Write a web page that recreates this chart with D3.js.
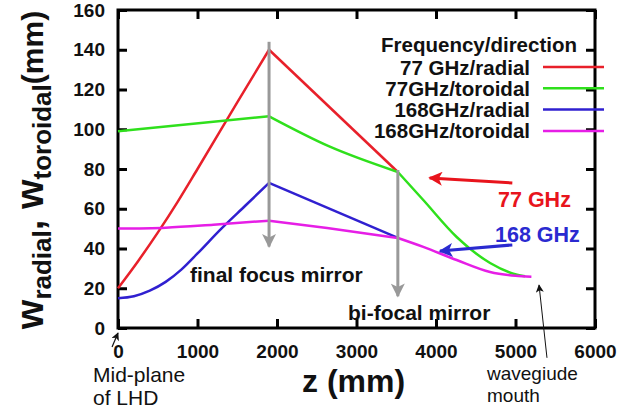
<!DOCTYPE html>
<html>
<head>
<meta charset="utf-8">
<title>Beam width along the transmission line</title>
<script src="https://d3js.org/d3.v7.min.js"></script>
<style>
  body { margin: 0; background: #fff; }
  svg { font-family: "Liberation Sans", Arial, Helvetica, sans-serif; }
  .tick text { font-size: 19px; font-weight: bold; fill: #111; }
  .tick line { stroke: #000; stroke-width: 3px; }
  .domain { display: none; }
</style>
</head>
<body>
<svg width="621" height="412"></svg>

<script>

// mirror positions along z (mm): final focus mirror, bi-focal mirror
const mirrorZ = [1900, 3520];

// 77 GHz / radial
const zRed77 = [0, 250, 500, 750, 1000, 1500, 1900, 3520];
const wRed77 = [20, 33.5, 48, 63.5, 80, 113.5, 140, 78.5];

// 77 GHz / toroidal
const zGreen77 = [0, 1900, 2650, 3520, 3840, 4260, 4680, 5020, 5120];
const wGreen77 = [99, 106.5, 91.5, 78.5, 64.4, 45.8, 32.7, 26.8, 26];

// 168 GHz / radial
const zBlue168 = [0, 200, 400, 600, 800, 1000, 1300, 1600, 1900, 3520];
const wBlue168 = [15, 16, 18.8, 23.2, 29.5, 37.5, 50, 61.5, 73, 45.3];

// 168 GHz / toroidal
const zMag168 = [0, 600, 1200, 1900, 2630, 3520, 3840, 4260, 4680, 5000, 5200];
const wMag168 = [50, 50.5, 52, 54, 50.3, 45.3, 40.8, 34.2, 28.2, 26.3, 25.8];

const seriesNames = ['77 GHz/radial', '77GHz/toroidal', '168GHz/radial', '168GHz/toroidal'];
const seriesColors = ['#e8202a', '#2fe01c', '#3020d0', '#e61ee6'];

const xTicks = [0, 1000, 2000, 3000, 4000, 5000, 6000];
const yTicks = [0, 20, 40, 60, 80, 100, 120, 140, 160];

// gray mirror arrows: start and end value at each mirror
const mirrorTop = [144, 79.5];
const mirrorTip = [41, 16];

const svg = d3.select('svg');
const margin = { top: 10, right: 26, bottom: 84, left: 118 };
const width = +svg.attr('width') - margin.left - margin.right;
const height = +svg.attr('height') - margin.top - margin.bottom;

const x = d3.scaleLinear().domain([0, 6000]).range([0, width]);
const y = d3.scaleLinear().domain([0, 160]).range([height, 0]);

const defs = svg.append('defs');
const marker = (id, color, w, h) => {
    defs.append('marker')
        .attr('id', id)
        .attr('viewBox', '0 0 10 10')
        .attr('refX', 9).attr('refY', 5)
        .attr('markerUnits', 'userSpaceOnUse')
        .attr('markerWidth', w).attr('markerHeight', h)
        .attr('orient', 'auto')
      .append('path')
        .attr('d', 'M0,0 L10,5 L0,10 L2.5,5 Z')
        .attr('fill', color);
};
marker('head-gray', '#999', 16, 14);
marker('head-red', '#e8141c', 18, 14);
marker('head-blue', '#2a2ad0', 18, 14);
marker('head-black', '#111', 9, 8);

const g = svg.append('g').attr('transform', `translate(${margin.left},${margin.top})`);

// axes with inward ticks on all four sides
g.append('g').attr('class', 'x-axis')
    .attr('transform', `translate(0,${height})`)
    .call(d3.axisBottom(x).tickValues(xTicks).tickSize(-9).tickPadding(17).tickFormat(d3.format('d')));
g.append('g').attr('class', 'y-axis')
    .call(d3.axisLeft(y).tickValues(yTicks).tickSize(-9).tickPadding(13));
g.append('g')
    .call(d3.axisTop(x).tickValues(xTicks).tickSize(-9).tickFormat(''));
g.append('g')
    .attr('transform', `translate(${width},0)`)
    .call(d3.axisRight(y).tickValues(yTicks).tickSize(-9).tickFormat(''));

g.append('rect')
    .attr('width', width).attr('height', height)
    .attr('fill', 'none').attr('stroke', '#000').attr('stroke-width', 3);

// curves, split into segments at the mirrors (sharp corners there)
const line = d3.line()
    .x(d => x(d[0]))
    .y(d => y(d[1]))
    .curve(d3.curveMonotoneX);

const splitAtMirrors = (zs, ws) => {
    const pts = zs.map((z, i) => [z, ws[i]]);
    const segs = [];
    let cur = [];
    pts.forEach(p => {
        cur.push(p);
        if (mirrorZ.includes(p[0]) && cur.length > 1) {
            segs.push(cur);
            cur = [p];
        }
    });
    if (cur.length > 1) segs.push(cur);
    return segs;
};

const allSeries = [[zRed77, wRed77], [zGreen77, wGreen77], [zBlue168, wBlue168], [zMag168, wMag168]];

allSeries.forEach((s, i) => {
    g.append('g')
      .selectAll('path')
      .data(splitAtMirrors(s[0], s[1]))
      .join('path')
        .attr('d', line)
        .attr('fill', 'none')
        .attr('stroke', seriesColors[i])
        .attr('stroke-width', 2.5)
        .attr('stroke-linejoin', 'round');
});

// gray mirror arrows
g.selectAll('.mirror')
  .data(mirrorZ)
  .join('line')
    .attr('class', 'mirror')
    .attr('x1', d => x(d)).attr('x2', d => x(d))
    .attr('y1', (d, i) => y(mirrorTop[i]))
    .attr('y2', (d, i) => y(mirrorTip[i]))
    .attr('stroke', '#999')
    .attr('stroke-width', 3)
    .attr('marker-end', 'url(#head-gray)');

// legend
const legend = svg.append('g');
legend.append('text')
    .attr('x', 577).attr('y', 52)
    .attr('text-anchor', 'end')
    .attr('font-size', 20.5).attr('font-weight', 'bold').attr('fill', '#111')
    .text('Frequency/direction');
seriesNames.forEach((name, i) => {
    const ly = 67 + i * 21.3;
    legend.append('text')
        .attr('x', 530).attr('y', ly + 7.5)
        .attr('text-anchor', 'end')
        .attr('font-size', 20.5).attr('font-weight', 'bold').attr('fill', '#111')
        .text(name);
    legend.append('line')
        .attr('x1', 543).attr('x2', 604)
        .attr('y1', ly).attr('y2', ly)
        .attr('stroke', seriesColors[i]).attr('stroke-width', 2.5);
});

// annotations
const note = (txt, px, py, size, weight, color, anchor) =>
    svg.append('text')
        .attr('x', px).attr('y', py)
        .attr('text-anchor', anchor || 'start')
        .attr('font-size', size).attr('font-weight', weight)
        .attr('fill', color)
        .text(txt);

note('final focus mirror', 190, 282, 21, 'bold', '#111');
note('bi-focal mirror', 348, 320, 21, 'bold', '#111');
note('77 GHz', 498, 207, 21.5, 'bold', '#e8141c');
note('168 GHz', 495, 242, 21.5, 'bold', '#2a2ad0');
note('Mid-plane', 93, 382, 21, 'normal', '#111');
note('of LHD', 93, 405, 21, 'normal', '#111');
note('wavegiude', 487, 380, 19, 'normal', '#111');
note('mouth', 487, 401.5, 19, 'normal', '#111');
note('z (mm)', 302, 392, 32, 'bold', '#111');

const arrow = (z1, w1, z2, w2, color, sw, head) =>
    g.append('line')
        .attr('x1', x(z1)).attr('y1', y(w1))
        .attr('x2', x(z2)).attr('y2', y(w2))
        .attr('stroke', color).attr('stroke-width', sw)
        .attr('marker-end', `url(#${head})`);

arrow(4960, 73, 3920, 75.5, '#e8141c', 3, 'head-red');
arrow(4960, 41.8, 4050, 38.7, '#2a2ad0', 3, 'head-blue');
arrow(5396, -15, 5296, 21.6, '#111', 1, 'head-black');
arrow(-75, -9.6, 0, -2.5, '#111', 1.2, 'head-black');

// y axis title
const yt = svg.append('text')
    .attr('transform', 'translate(43,170) rotate(-90)')
    .attr('text-anchor', 'middle')
    .attr('font-weight', 'bold').attr('fill', '#111');
yt.append('tspan').attr('font-size', 38).text('w');
yt.append('tspan').attr('font-size', 26).attr('dy', 8).text('radial');
yt.append('tspan').attr('font-size', 38).attr('dy', -8).text(', ');
yt.append('tspan').attr('font-size', 38).text('w');
yt.append('tspan').attr('font-size', 26).attr('dy', 8).text('toroidal');
yt.append('tspan').attr('font-size', 30).attr('dy', -8).text('(mm)');

</script>
</body>
</html>
